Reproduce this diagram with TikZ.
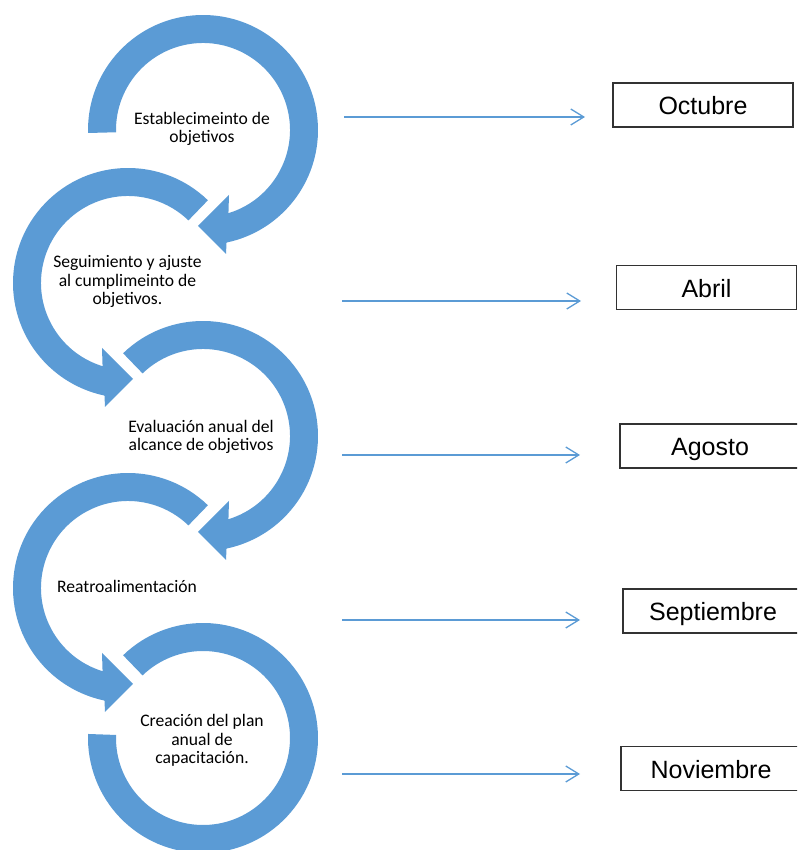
\documentclass[tikz,border=0pt]{standalone}
\usepackage{fontspec}
\setmainfont{Liberation Sans}
\newfontfamily\carlito{Carlito}
\usetikzlibrary{arrows.meta}
\definecolor{ringblue}{RGB}{91,155,213}
\definecolor{boxline}{RGB}{50,50,50}
\begin{document}
\begin{tikzpicture}[x=1pt,y=1pt,
  ringshape/.style={fill=ringblue},
  lbl/.style={font=\carlito\fontsize{17.6}{18.8}\selectfont, align=center, inner sep=0pt, anchor=base},
  month/.style={draw=boxline, line width=1.3pt, fill=white, minimum width=180pt, minimum height=44pt, inner sep=0pt, text height=22pt, text depth=2pt, font=\fontsize{25}{28}\selectfont},
  link/.style={draw=ringblue, line width=1.3pt, -{Straight Barb[length=13pt,width=16pt,line width=1.3pt]}}]
\useasboundingbox (0,0) rectangle (797,850);
\clip (0,0) rectangle (797,850);

% ring 1 (clockwise)
\fill[ringshape, shift={(203,720)}] (181.5:115) arc[start angle=181.5, end angle=-78.2, radius=115]
  -- (23,-124) -- (-5,-96) -- (26,-65) -- (-73:87) arc[start angle=-73, end angle=181.5, radius=87] -- cycle;
% ring 2 (counter-clockwise)
\fill[ringshape, shift={(128,567)}] (46:115) arc[start angle=46, end angle=258.2, radius=115]
  -- (-23,-124) -- (5,-96) -- (-26,-65) -- (253:87) arc[start angle=253, end angle=46, radius=87] -- cycle;
% ring 3 (clockwise)
\fill[ringshape, shift={(203,414)}] (134:115) arc[start angle=134, end angle=-78.2, radius=115]
  -- (23,-124) -- (-5,-96) -- (26,-65) -- (-73:87) arc[start angle=-73, end angle=134, radius=87] -- cycle;
% ring 4 (counter-clockwise)
\fill[ringshape, shift={(128,262)}] (46:115) arc[start angle=46, end angle=258.2, radius=115]
  -- (-23,-124) -- (5,-96) -- (-26,-65) -- (253:87) arc[start angle=253, end angle=46, radius=87] -- cycle;
% ring 5
\fill[ringshape, shift={(203,112)}] (134:115) arc[start angle=134, end angle=-182, radius=115]
  -- (-182:87) arc[start angle=-182, end angle=134, radius=87] -- cycle;

\node[lbl] (t1) at (202,707) {Establecimeinto de\\objetivos};
\node[lbl] (t2) at (127.5,545) {Seguimiento y ajuste\\al cumplimeinto de\\objetivos.};
\node[lbl] (t3) at (201,399) {Evaluación anual del\\alcance de objetivos};
\node[lbl] (t4) at (127,257) {Reatroalimentación};
\node[lbl] (t5) at (202,86) {Creación del plan\\anual de\\capacitación.};

\node[month] (m1) at (703,745) {Octubre};
\node[month] (m2) at (706.5,562.5) {Abril};
\node[month] (m3) at (710,404) {Agosto};
\node[month] (m4) at (713,239) {Septiembre};
\node[month] (m5) at (711,81.5) {Noviembre};

\coordinate (s1) at (344,733); \coordinate (e1) at (585,733);
\coordinate (s2) at (342,549); \coordinate (e2) at (581,549);
\coordinate (s3) at (342,395); \coordinate (e3) at (580,395);
\coordinate (s4) at (342,230); \coordinate (e4) at (580,230);
\coordinate (s5) at (342,76);  \coordinate (e5) at (580,76);
\draw[link] (s1) -- (e1);
\draw[link] (s2) -- (e2);
\draw[link] (s3) -- (e3);
\draw[link] (s4) -- (e4);
\draw[link] (s5) -- (e5);
\end{tikzpicture}
\end{document}
